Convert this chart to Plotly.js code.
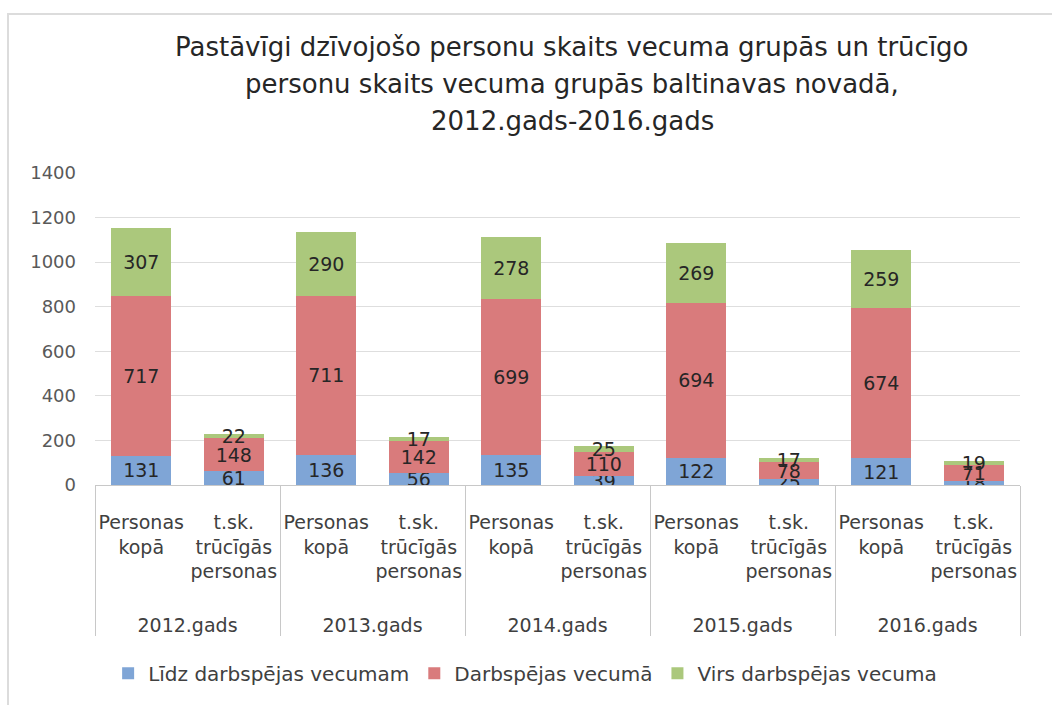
<!DOCTYPE html>
<html>
<head>
<meta charset="utf-8">
<script src="https://cdn.plot.ly/plotly-3.0.1.min.js"></script>
<style>
  body { margin: 0; background: #fff; }
  #frame { position: absolute; left: 7px; top: 13px; width: 1060px; height: 700px; border: 2px solid #dcdcdc; box-sizing: border-box; }
  #chart { position: absolute; left: 0; top: 0; width: 1052px; height: 705px; }
</style>
</head>
<body>
<div id="frame"></div>
<div id="chart"></div>
<script>
const years = ['2012.gads', '2013.gads', '2014.gads', '2015.gads', '2016.gads'];
// two blank trailing lines push the year row down, as in Excel
const groups = ['Personas<br>kopā', 't.sk.<br>trūcīgās<br>personas<br>\u00a0<br>\u00a0'];

// series values, year by year: Personas kopā, then trūcīgās personas
const lidzDarbspejas = [131, 61, 136, 56, 135, 39, 122, 25, 121, 18];
const darbspejas = [717, 148, 711, 142, 699, 110, 694, 78, 674, 71];
const virsDarbspejas = [307, 22, 290, 17, 278, 25, 269, 17, 259, 19];

const seriesNames = ['Līdz darbspējas vecumam', 'Darbspējas vecumā', 'Virs darbspējas vecuma'];
const titleLines = [
    'Pastāvīgi dzīvojošo personu skaits vecuma grupās un trūcīgo',
    'personu skaits vecuma grupās baltinavas novadā,',
    '2012.gads-2016.gads'
];
const colors = ['#7fa5d6', '#d97b7c', '#abc87c'];
const FONT = 'DejaVu Sans, sans-serif';

// multicategory x: [outer level, inner level]
const xOuter = [];
const xInner = [];
years.forEach(y => groups.forEach(g => { xOuter.push(y); xInner.push(g); }));

function makeTrace(vals, i) {
    return {
        type: 'bar',
        name: seriesNames[i],
        x: [xOuter, xInner],
        y: vals,
        text: vals.map(String),
        textposition: 'inside',
        insidetextanchor: 'middle',
        textangle: 0,
        constraintext: 'none',
        textfont: {family: FONT, size: 19, color: '#262626'},
        marker: {color: colors[i]},
        hoverinfo: 'none'
    };
}

const data = [
    makeTrace(lidzDarbspejas, 0),
    makeTrace(darbspejas, 1),
    makeTrace(virsDarbspejas, 2)
];

// title as three lines, to get Excel's wider line spacing
const titleY = [1.404, 1.285, 1.167];
const annotations = titleLines.map((t, i) => ({
    text: t,
    xref: 'paper', yref: 'paper',
    x: 0.516, y: titleY[i],
    xanchor: 'center', yanchor: 'middle',
    showarrow: false,
    font: {family: FONT, size: 26, color: '#262626'}
}));

const layout = {
    barmode: 'stack',
    bargap: 0.35,
    width: 1052,
    height: 705,
    paper_bgcolor: 'rgba(0,0,0,0)',
    plot_bgcolor: 'rgba(0,0,0,0)',
    margin: {t: 173, r: 32, b: 220, l: 95},
    font: {family: FONT, color: '#404040'},
    annotations: annotations,
    xaxis: {
        type: 'multicategory',
        showline: true,
        linecolor: '#c8c8c8',
        showdividers: true,
        dividercolor: '#c8c8c8',
        dividerwidth: 1,
        tickangle: 0,
        ticklabelstandoff: 20,
        tickfont: {family: FONT, size: 19, color: '#404040'},
        ticks: ''
    },
    yaxis: {
        range: [0, 1400],
        dtick: 200,
        gridcolor: '#dedede',
        zeroline: false,
        ticklabelstandoff: 18,
        tickfont: {family: FONT, size: 18, color: '#595959'}
    },
    legend: {
        orientation: 'h',
        x: 0.465,
        xanchor: 'center',
        y: -0.603,
        yanchor: 'middle',
        itemwidth: 30,
        font: {family: FONT, size: 20, color: '#404040'},
        traceorder: 'normal'
    },
    showlegend: true
};

Plotly.newPlot('chart', data, layout, {displayModeBar: false, staticPlot: true});
</script>
</body>
</html>
